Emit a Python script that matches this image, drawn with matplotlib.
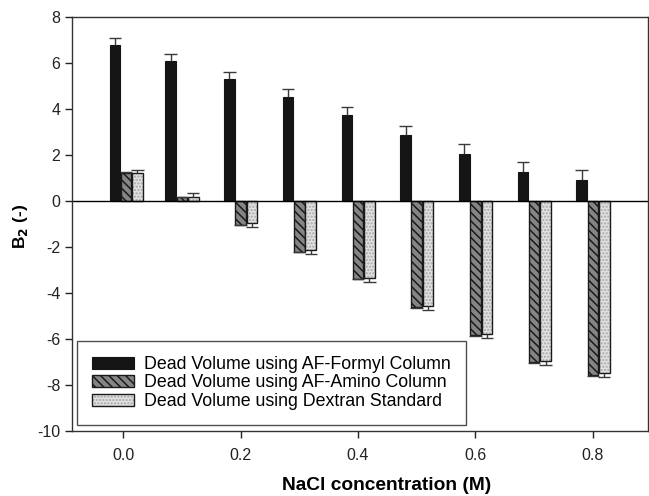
import numpy as np
import matplotlib
matplotlib.use("Agg")
from matplotlib import pyplot as plt
from matplotlib.legend_handler import HandlerTuple

plt.rcParams['font.family'] = ['Liberation Sans', 'DejaVu Sans']
plt.rcParams['hatch.linewidth'] = 1.1
plt.rcParams['axes.unicode_minus'] = False

# NaCl concentration (M)
nacl = [0.005, 0.1, 0.2, 0.3, 0.4, 0.5, 0.6, 0.7, 0.8]

formyl = [6.80, 6.08, 5.29, 4.51, 3.73, 2.86, 2.03, 1.25, 0.90]
formyl_err = [0.29, 0.32, 0.33, 0.35, 0.37, 0.40, 0.44, 0.45, 0.43]

amino = [1.22, 0.17, -1.03, -2.20, -3.38, -4.62, -5.84, -7.01, -7.57]
amino_err = [0.02, 0.02, 0.03, 0.03, 0.03, 0.03, 0.03, 0.03, 0.03]

dextran = [1.23, 0.19, -0.97, -2.14, -3.35, -4.55, -5.78, -6.94, -7.49]
dextran_err = [0.12, 0.14, 0.16, 0.16, 0.16, 0.17, 0.16, 0.19, 0.18]

labels = ["Dead Volume using AF-Formyl Column",
          "Dead Volume using AF-Amino Column",
          "Dead Volume using Dextran Standard"]

x = np.array(nacl)
w = 0.018
cap = 0.0105  # half width of error caps

fig = plt.figure(figsize=(6.49, 4.96), dpi=100)
ax = fig.add_axes([72/649, (496-431)/496, (648-72)/649, (431-17)/496])

def err_out(xpos, vals, errs):
    # one-sided error bar, pointing away from zero
    v = np.array(vals)
    e = np.array(errs)
    end = np.where(v < 0, v - e, v + e)
    ax.vlines(xpos, v, end, color='#3a3a3a', linewidth=1.0, zorder=3)
    ax.hlines(end, xpos - cap, xpos + cap, color='#3a3a3a', linewidth=1.0, zorder=3)

b1 = ax.bar(x - 0.019, formyl, w, color='#151515', edgecolor='#151515', linewidth=0.8)
b2 = ax.bar(x, amino, w, color='#858585', edgecolor='#1a1a1a', hatch='\\\\\\\\',
            linewidth=1.0)
# dextran: light speckle fill, then black outline on top
b3f = ax.bar(x + 0.0195, dextran, w, color='#e2e2e2', edgecolor='#a8a8a8', hatch='.....',
             linewidth=0)
b3 = ax.bar(x + 0.0195, dextran, w, color='none', edgecolor='#1a1a1a', linewidth=1.0)

err_out(x - 0.019, formyl, formyl_err)
err_out(x, amino, amino_err)
err_out(x + 0.0195, dextran, dextran_err)

ax.axhline(0, color='black', linewidth=1.0)

ax.set_xlim(-0.087, 0.894)
ax.set_ylim(-10, 8)
ax.set_xticks([0.0, 0.2, 0.4, 0.6, 0.8])
ax.set_xticklabels(['0.0', '0.2', '0.4', '0.6', '0.8'])
yt = list(range(-10, 9, 2))
ax.set_yticks(yt)
ax.set_yticklabels([str(v) for v in yt])
ax.tick_params(axis='both', direction='out', length=5, width=1, labelsize=11.5, colors='#222222')
ax.tick_params(axis='x', pad=7)
for s in ax.spines.values():
    s.set_linewidth(1.0)
    s.set_color('#333333')

ax.set_xlabel('NaCl concentration (M)', fontsize=13.8, fontweight='bold', va='center')
ax.xaxis.set_label_coords((387 - 72) / 576, (431 - 485) / 414)
ax.set_ylabel('B$_\\mathbf{2}$ (-)', fontsize=12.5, fontweight='bold', va='center')
ax.yaxis.set_label_coords((20 - 72) / 576, (431 - 226) / 414)

leg = ax.legend([b1[0], b2[0], (b3f[0], b3[0])], labels,
                handler_map={tuple: HandlerTuple(ndivide=1, pad=0)},
                loc='lower left', bbox_to_anchor=(0.0087, 0.0145), fontsize=12.8,
                frameon=True, fancybox=False, handlelength=2.35, handleheight=0.67,
                labelspacing=0.08, borderpad=0.85, handletextpad=0.55, borderaxespad=0)
leg.get_frame().set_edgecolor('#222222')
leg.get_frame().set_linewidth(1.0)

fig.savefig('out.png', dpi=100)
